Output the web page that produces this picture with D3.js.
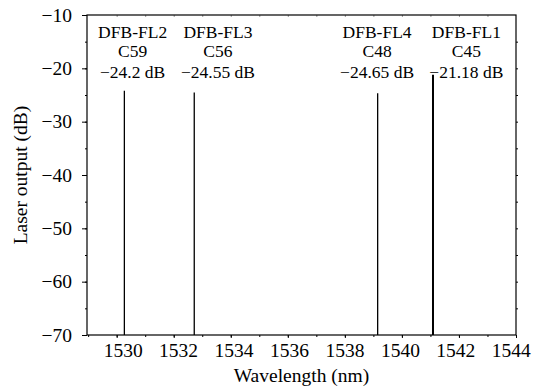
<!DOCTYPE html>
<html>
<head>
<meta charset="utf-8">
<script src="https://cdn.jsdelivr.net/npm/d3@7"></script>
<style>
  html, body { margin: 0; padding: 0; background: #fff; }
  svg { display: block; }
  text { font-family: "Liberation Serif", "Times New Roman", serif; fill: #000; }
</style>
</head>
<body>
<svg id="chart" width="533" height="388"></svg>
<script>
// Lasing lines of the four DFB fibre lasers
const lasers    = ["DFB-FL2", "DFB-FL3", "DFB-FL4", "DFB-FL1"];
const channels  = ["C59", "C56", "C48", "C45"];
const peakNm    = [1530.27, 1532.72, 1539.15, 1541.09];
const peakDb    = [-24.2, -24.55, -24.65, -21.18];
// wavelength at which each annotation is centred
const labelNm   = [1530.56, 1533.55, 1539.13, 1542.26];

const xTicks = [1530, 1532, 1534, 1536, 1538, 1540, 1542, 1544];
const yTicks = [-10, -20, -30, -40, -50, -60, -70];
const floorDb = -70;

const svg = d3.select("#chart");
const m = { left: 87, right: 516, top: 15, bottom: 335 };

const x = d3.scaleLinear().domain([1528.96, 1544]).range([m.left, m.right]);
const y = d3.scaleLinear().domain([-70, -10]).range([m.bottom, m.top]);

// minor ticks (every 1 nm / 5 dB)
const xMinor = d3.range(1529, 1544.5, 1);
const yMinor = d3.range(-70, -9, 5);

// bottom axis: minor then major ticks with labels
svg.append("g").attr("transform", `translate(0,${m.bottom})`)
  .call(d3.axisBottom(x).tickValues(xMinor).tickSize(2).tickFormat(""))
  .call(g => g.select(".domain").remove())
  .selectAll("line").attr("stroke", "#000");
const xAxis = svg.append("g").attr("transform", `translate(0,${m.bottom})`)
  .call(d3.axisBottom(x).tickValues(xTicks).tickSize(3).tickPadding(5).tickFormat(d3.format("d")));
xAxis.select(".domain").remove();
xAxis.selectAll("line").attr("stroke", "#000");
// labels are pulled slightly towards the centre so the last one fits
xAxis.selectAll("text").style("font-size", "19.5px").attr("dy", "0.72em")
  .attr("dx", d => (1537.5 - d) * 0.8);

// left axis
svg.append("g").attr("transform", `translate(${m.left},0)`)
  .call(d3.axisLeft(y).tickValues(yMinor).tickSize(2).tickFormat(""))
  .call(g => g.select(".domain").remove())
  .selectAll("line").attr("stroke", "#000");
const yAxis = svg.append("g").attr("transform", `translate(${m.left},0)`)
  .call(d3.axisLeft(y).tickValues(yTicks).tickSize(5).tickPadding(10));
yAxis.select(".domain").remove();
yAxis.selectAll("line").attr("stroke", "#000");
yAxis.selectAll("text").style("font-size", "19.5px");

// top axis (inward ticks) and right axis (outward ticks)
svg.append("g").attr("transform", `translate(0,${m.top})`)
  .call(d3.axisBottom(x).tickValues(xMinor.slice(1, -1)).tickSize(2).tickFormat(""))
  .call(g => g.select(".domain").remove())
  .selectAll("line").attr("stroke", "#999");
svg.append("g").attr("transform", `translate(${m.right},0)`)
  .call(d3.axisRight(y).tickValues(yMinor.slice(1, -1)).tickSize(2).tickFormat(""))
  .call(g => g.select(".domain").remove())
  .selectAll("line").attr("stroke", "#000");

// frame
svg.append("rect")
  .attr("x", m.left).attr("y", m.top)
  .attr("width", m.right - m.left).attr("height", m.bottom - m.top)
  .attr("fill", "none").attr("stroke", "#000").attr("stroke-width", 1.2);

// laser lines
const data = lasers.map((name, i) => ({
  name, ch: channels[i], nm: peakNm[i], db: peakDb[i], lab: labelNm[i]
}));
const line = d3.line().x(d => x(d[0])).y(d => y(d[1]));
svg.append("g").selectAll("path").data(data).join("path")
  .attr("d", d => line([[d.nm, floorDb], [d.nm, d.db]]))
  .attr("fill", "none")
  .attr("stroke", "#000")
  .attr("stroke-width", d => d.name === "DFB-FL1" ? 2 : 1.3);

// annotations
const ann = svg.append("g").selectAll("text").data(data).join("text")
  .attr("x", d => x(d.lab))
  .attr("text-anchor", "middle")
  .style("font-size", "17.5px");
ann.append("tspan").attr("x", d => x(d.lab)).attr("y", m.top + 22.5).text(d => d.name);
ann.append("tspan").attr("x", d => x(d.lab)).attr("y", m.top + 42).text(d => d.ch);
ann.append("tspan").attr("x", d => x(d.lab)).attr("y", m.top + 62.5)
  .text(d => "\u2212" + Math.abs(d.db) + " dB");

// axis titles
svg.append("text")
  .attr("x", (m.left + m.right) / 2).attr("y", 381.5)
  .attr("text-anchor", "middle").style("font-size", "19.5px")
  .text("Wavelength (nm)");
svg.append("text")
  .attr("transform", `translate(27,${(m.top + m.bottom) / 2}) rotate(-90)`)
  .attr("text-anchor", "middle").style("font-size", "19.5px")
  .text("Laser output (dB)");
</script>
</body>
</html>
